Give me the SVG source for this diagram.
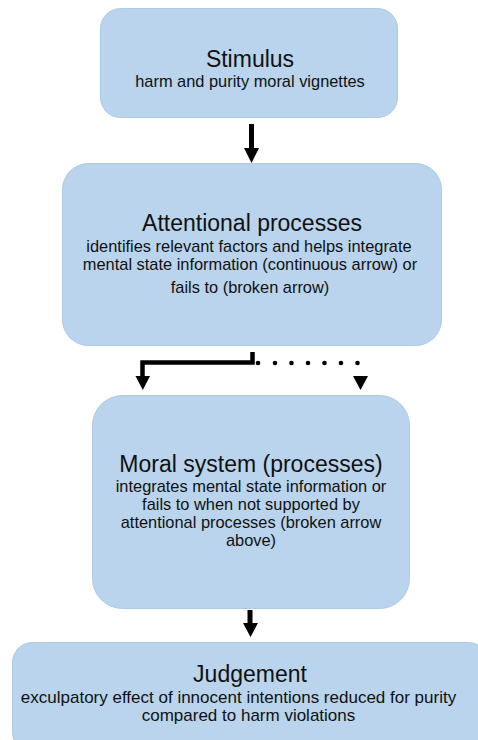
<svg xmlns="http://www.w3.org/2000/svg" width="478" height="740" viewBox="0 0 478 740">
<style>
.box{fill:#b9d4ec;stroke:#aecbe6;stroke-width:1}
.t{font-family:"Liberation Sans",Arial,sans-serif;fill:#111;text-anchor:middle}
.h{font-size:23px}
.s{font-size:16.4px}
.j{font-size:17px}
.ln{stroke:#000;fill:none}
.hd{fill:#000}
</style>
<rect width="478" height="740" fill="#fff"/>
<g id="stimulus">
<rect class="box" x="100.5" y="8.5" width="297" height="109" rx="20"/>
<text class="t h" x="250" y="67">Stimulus</text>
<text class="t s" x="250" y="87">harm and purity moral vignettes</text>
</g>
<g id="attentional">
<rect class="box" x="62.5" y="163.5" width="379" height="182" rx="26"/>
<text class="t h" x="252" y="231">Attentional processes</text>
<text class="t s" x="249" y="252">identifies relevant factors and helps integrate</text>
<text class="t s" x="250" y="270">mental state information (continuous arrow) or</text>
<text class="t s" x="250" y="293">fails to (broken arrow)</text>
</g>
<g id="moral">
<rect class="box" x="92.5" y="395.5" width="317" height="213" rx="30"/>
<text class="t h" x="251" y="472">Moral system (processes)</text>
<text class="t s" x="251" y="492">integrates mental state information or</text>
<text class="t s" x="251" y="510">fails to when not supported by</text>
<text class="t s" x="251" y="528">attentional processes (broken arrow</text>
<text class="t s" x="251" y="546">above)</text>
</g>
<g id="judgement">
<rect class="box" x="12.5" y="642.5" width="476" height="110" rx="20"/>
<text class="t h" x="250" y="682">Judgement</text>
<text class="t j" x="238.5" y="703">exculpatory effect of innocent intentions reduced for purity</text>
<text class="t j" x="248.5" y="721">compared to harm violations</text>
</g>
<g id="connectors">
<line class="ln" x1="251.5" y1="124" x2="251.5" y2="149" stroke-width="5"/>
<polygon class="hd" points="244,148 259,148 251.5,163"/>
<polyline class="ln" points="252.5,352 252.5,362.5 142.5,362.5 142.5,377" stroke-width="4.5"/>
<polygon class="hd" points="135.5,376 150,376 142.8,390"/>
<g class="hd">
<circle cx="258" cy="363" r="2.3"/>
<circle cx="275" cy="363" r="2.3"/>
<circle cx="291.5" cy="363" r="2.3"/>
<circle cx="308" cy="363" r="2.3"/>
<circle cx="324.5" cy="363" r="2.3"/>
<circle cx="341" cy="363" r="2.3"/>
<circle cx="357.5" cy="363" r="2.3"/>
</g>
<polygon class="hd" points="353,376 368,376 360.5,390"/>
<line class="ln" x1="250" y1="610" x2="250" y2="624" stroke-width="5"/>
<polygon class="hd" points="243,623 258,623 250.5,637"/>
</g>
</svg>
